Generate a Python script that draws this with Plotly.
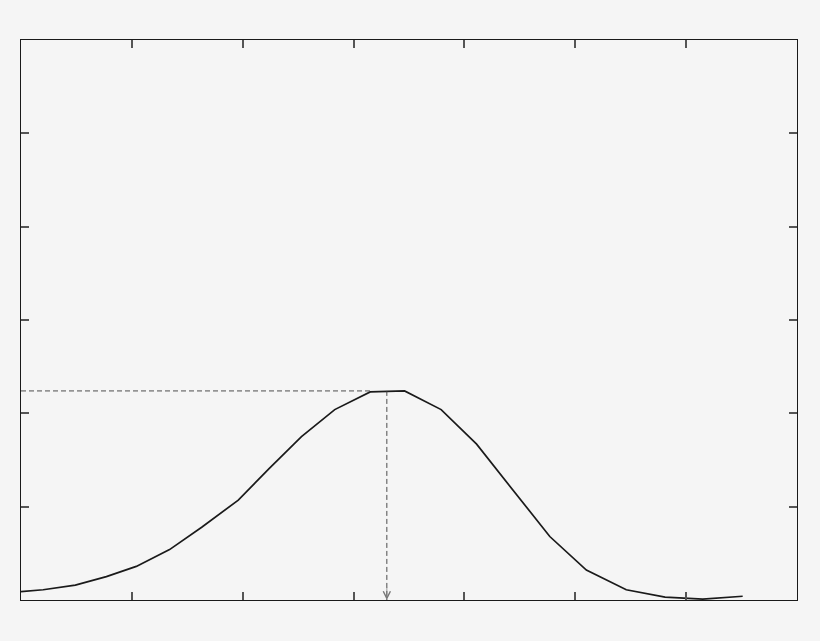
import plotly.graph_objects as go

# curva (unidades de eixo: x 0..7, y 0..6)
x_curva = [0.0, 0.20, 0.49, 0.77, 1.04, 1.34, 1.63, 1.96, 2.24, 2.53, 2.83,
           3.15, 3.46, 3.79, 4.11, 4.44, 4.77, 5.10, 5.46, 5.81, 6.15, 6.51]
y_curva = [0.09, 0.11, 0.16, 0.25, 0.36, 0.54, 0.78, 1.07, 1.41, 1.75, 2.04,
           2.23, 2.24, 2.04, 1.67, 1.18, 0.68, 0.32, 0.11, 0.03, 0.01, 0.04]

# marcação do pico
pico_x = 3.30
pico_y = 2.24

x_ticks = [0, 1, 2, 3, 4, 5, 6, 7]
y_ticks = [0, 1, 2, 3, 4, 5, 6]

fundo = '#f5f5f5'
cor_eixo = '#1a1a1a'
cor_tick = '#555555'
cor_tracejado = '#3a3a3a'

fig = go.Figure()

fig.add_trace(go.Scatter(
    x=x_curva,
    y=y_curva,
    mode='lines',
    line=dict(color='#1a1a1a', width=1.7),
    showlegend=False,
    hoverinfo='skip'
))

# linha horizontal tracejada até o pico
fig.add_shape(type='line', x0=0, x1=x_curva[11], y0=pico_y, y1=pico_y,
              line=dict(color=cor_tracejado, width=0.9, dash='5px,3px'))
# linha vertical tracejada até o eixo
fig.add_shape(type='line', x0=pico_x, x1=pico_x, y0=pico_y, y1=0,
              line=dict(color=cor_tracejado, width=0.9, dash='5px,3px'))

# ponta da seta
fig.add_annotation(x=pico_x, y=0, ax=0, ay=-14, axref='pixel', ayref='pixel',
                   showarrow=True, arrowhead=5, arrowsize=2.0, arrowwidth=0.7,
                   arrowcolor='#777777', text='')

eixo = dict(
    showgrid=False,
    zeroline=False,
    showline=True,
    linecolor=cor_eixo,
    linewidth=1.4,
    mirror='ticks',
    ticks='inside',
    ticklen=8,
    tickwidth=1.6,
    tickcolor=cor_tick,
    showticklabels=False,
)

# a página tem 8px de margem no body, por isso a figura fica menor
fig.update_layout(
    width=804,
    height=625,
    autosize=False,
    margin=dict(l=13, r=15, t=32, b=33),
    paper_bgcolor=fundo,
    plot_bgcolor=fundo,
    xaxis=dict(range=[0, 7], tickvals=x_ticks, **eixo),
    yaxis=dict(range=[0, 6], tickvals=y_ticks, **eixo),
)

fig.write_html('out.html', post_script="document.body.style.background='#f5f5f5';")
